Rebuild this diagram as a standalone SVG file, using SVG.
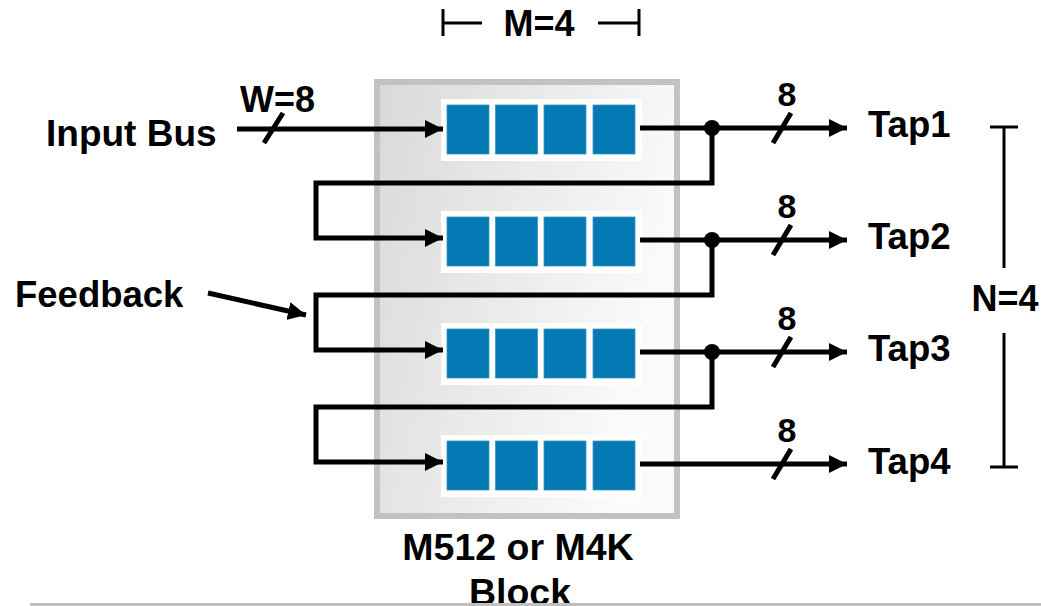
<svg xmlns="http://www.w3.org/2000/svg" width="1041" height="606" viewBox="0 0 1041 606">
<style>
.t{font-family:"Liberation Sans",Arial,sans-serif;font-weight:bold;fill:#000}
.w{stroke:#000;stroke-width:5;fill:none}
.thin{stroke:#000;stroke-width:3;fill:none}
.cell{fill:#0479b4;stroke:#3b95c6;stroke-width:0.8}
.reg{fill:#fff}
</style>
<defs>
<linearGradient id="bg" x1="0" y1="0" x2="1" y2="0.35">
<stop offset="0" stop-color="#d9d9d9"/>
<stop offset="1" stop-color="#fbfbfb"/>
</linearGradient>
<marker id="ah" markerWidth="18" markerHeight="18" refX="18" refY="9" orient="auto" markerUnits="userSpaceOnUse">
<path d="M0,0 L18,9 L0,18 Z" fill="#000"/>
</marker>
</defs>

<g id="memory-block">
<rect x="377" y="82" width="300" height="434" fill="url(#bg)" stroke="#c2c2c2" stroke-width="6"/>
</g>

<g id="row1">
<rect class="reg" x="441" y="99" width="201" height="62"/>
<rect class="cell" x="447" y="105" width="42" height="49"/>
<rect class="cell" x="495.5" y="105" width="42" height="49"/>
<rect class="cell" x="544" y="105" width="42" height="49"/>
<rect class="cell" x="593" y="105" width="42" height="49"/>
</g>
<g id="row2">
<rect class="reg" x="441" y="211" width="201" height="62"/>
<rect class="cell" x="447" y="217" width="42" height="49"/>
<rect class="cell" x="495.5" y="217" width="42" height="49"/>
<rect class="cell" x="544" y="217" width="42" height="49"/>
<rect class="cell" x="593" y="217" width="42" height="49"/>
</g>
<g id="row3">
<rect class="reg" x="441" y="323" width="201" height="62"/>
<rect class="cell" x="447" y="329" width="42" height="49"/>
<rect class="cell" x="495.5" y="329" width="42" height="49"/>
<rect class="cell" x="544" y="329" width="42" height="49"/>
<rect class="cell" x="593" y="329" width="42" height="49"/>
</g>
<g id="row4">
<rect class="reg" x="441" y="435" width="201" height="62"/>
<rect class="cell" x="447" y="441" width="42" height="49"/>
<rect class="cell" x="495.5" y="441" width="42" height="49"/>
<rect class="cell" x="544" y="441" width="42" height="49"/>
<rect class="cell" x="593" y="441" width="42" height="49"/>
</g>

<g id="connectors">
<line class="w" x1="237" y1="129" x2="443" y2="129" marker-end="url(#ah)"/>
<line class="w" x1="264" y1="143" x2="283" y2="113"/>
<line class="w" x1="640" y1="128" x2="847" y2="128" marker-end="url(#ah)"/>
<line class="w" x1="640" y1="240" x2="847" y2="240" marker-end="url(#ah)"/>
<line class="w" x1="640" y1="352" x2="847" y2="352" marker-end="url(#ah)"/>
<line class="w" x1="640" y1="464" x2="847" y2="464" marker-end="url(#ah)"/>
<line class="w" x1="773" y1="143" x2="791" y2="113"/>
<line class="w" x1="773" y1="255" x2="791" y2="225"/>
<line class="w" x1="773" y1="367" x2="791" y2="337"/>
<line class="w" x1="773" y1="479" x2="791" y2="449"/>
<circle cx="712" cy="128" r="8" fill="#000"/>
<circle cx="712" cy="240" r="8" fill="#000"/>
<circle cx="712" cy="352" r="8" fill="#000"/>
<polyline class="w" points="712,128 712,183 316,183 316,238 443,238" marker-end="url(#ah)"/>
<polyline class="w" points="712,240 712,295 316,295 316,350 443,350" marker-end="url(#ah)"/>
<polyline class="w" points="712,352 712,407 316,407 316,462 443,462" marker-end="url(#ah)"/>
<line class="w" x1="208" y1="293" x2="306" y2="315" marker-end="url(#ah)"/>
<polyline class="thin" points="443,9 443,36"/>
<line class="thin" x1="443" y1="23" x2="482" y2="23"/>
<line class="thin" x1="598" y1="23" x2="639" y2="23"/>
<polyline class="thin" points="639,9 639,36"/>
<line class="thin" x1="990" y1="127" x2="1018" y2="127"/>
<line class="thin" x1="1004" y1="127" x2="1004" y2="268"/>
<line class="thin" x1="1004" y1="333" x2="1004" y2="467"/>
<line class="thin" x1="990" y1="467" x2="1018" y2="467"/>
</g>

<g id="labels">
<text class="t" x="46" y="146" font-size="37">Input Bus</text>
<text class="t" x="15" y="307" font-size="36.5">Feedback</text>
<text class="t" x="240" y="112" font-size="36">W=8</text>
<text class="t" x="539" y="36" font-size="36" text-anchor="middle">M=4</text>
<text class="t" x="1005" y="311" font-size="36" text-anchor="middle">N=4</text>
<text class="t" x="787" y="106" font-size="34" text-anchor="middle">8</text>
<text class="t" x="787" y="218" font-size="34" text-anchor="middle">8</text>
<text class="t" x="787" y="330" font-size="34" text-anchor="middle">8</text>
<text class="t" x="787" y="442" font-size="34" text-anchor="middle">8</text>
<text class="t" x="868" y="137" font-size="36.5">Tap1</text>
<text class="t" x="868" y="249" font-size="36.5">Tap2</text>
<text class="t" x="868" y="361" font-size="36.5">Tap3</text>
<text class="t" x="868" y="474" font-size="36.5">Tap4</text>
<text class="t" x="518" y="560" font-size="37.5" text-anchor="middle">M512 or M4K</text>
<text class="t" x="520" y="605" font-size="37.5" text-anchor="middle">Block</text>
</g>
<rect x="30" y="603" width="1011" height="3" fill="#c0c0c0"/>
</svg>
